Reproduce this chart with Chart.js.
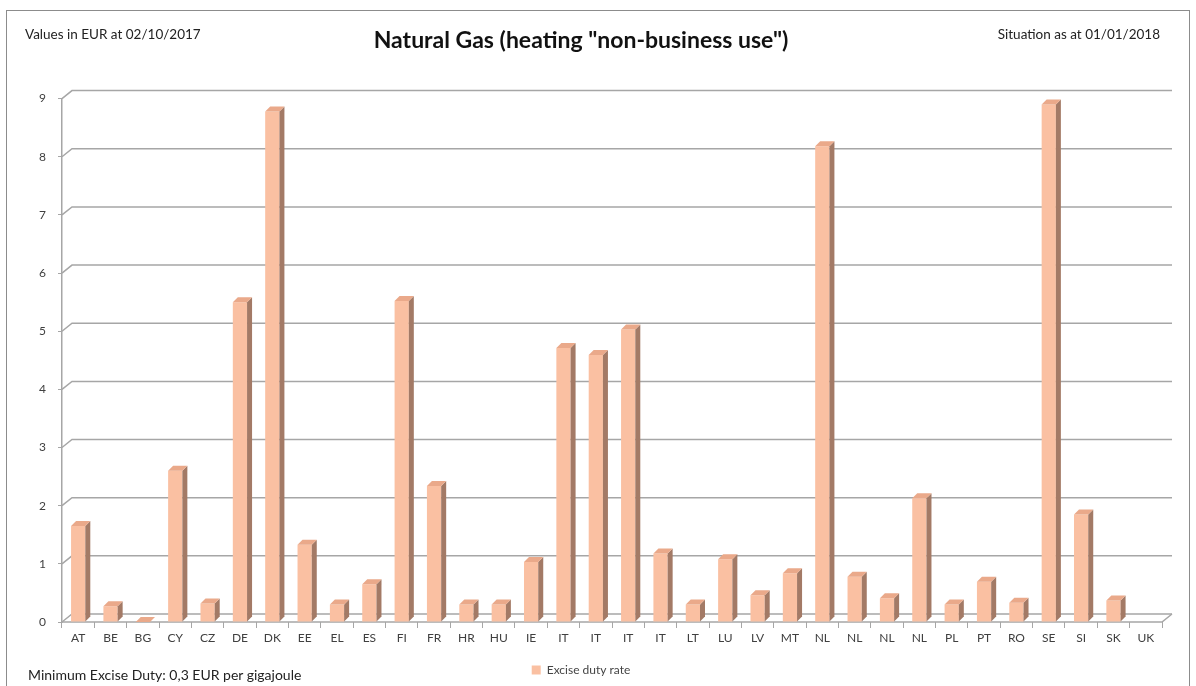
<!DOCTYPE html>
<html>
<head>
<meta charset="utf-8">
<script src="https://cdn.jsdelivr.net/npm/chart.js@4/dist/chart.umd.min.js"></script>
<style>
  html, body { margin: 0; padding: 0; background: #fff; }
  #wrap { position: relative; width: 1196px; height: 686px; overflow: hidden; font-family: Lato, "Open Sans", sans-serif; }
  #frame { position: absolute; left: 6px; top: 10px; width: 1184px; height: 690px; border: 1.5px solid #8c8c8c; box-sizing: border-box; }
  canvas { position: absolute; left: 0; top: 0; }
  .note { position: absolute; font-size: 13.5px; color: #222; white-space: nowrap; }
</style>
</head>
<body>
<div id="wrap">
  <div id="frame"></div>
  <canvas id="c" width="1196" height="686"></canvas>
  <div class="note" style="left:25px; top:26px;">Values in EUR at 02/10/2017</div>
  <div class="note" style="right:36px; top:26px;">Situation as at 01/01/2018</div>
  <div class="note" style="left:28px; top:666px; font-size:14px;">Minimum Excise Duty: 0,3 EUR per gigajoule</div>
</div>
<script>
const categories = ["AT","BE","BG","CY","CZ","DE","DK","EE","EL","ES","FI","FR","HR","HU","IE","IT","IT","IT","IT","LT","LU","LV","MT","NL","NL","NL","NL","PL","PT","RO","SE","SI","SK","UK"];
const exciseRates = [1.65,0.27,0,2.6,0.32,5.5,8.78,1.33,0.3,0.65,5.52,2.34,0.3,0.3,1.03,4.71,4.59,5.03,1.18,0.3,1.08,0.46,0.84,8.18,0.78,0.41,2.13,0.3,0.69,0.33,8.9,1.85,0.37,null];
const yTicks = [0,1,2,3,4,5,6,7,8,9];
const seriesLabel = "Excise duty rate";
const titleText = 'Natural Gas (heating "non-business use")';

const DEPTH = 5;
const WALL_DX = 10, WALL_DY = 8;

const backWall = {
  id: 'backWall',
  beforeDatasetsDraw(chart) {
    const ctx = chart.ctx, y = chart.scales.y, a = chart.chartArea;
    ctx.save();
    ctx.strokeStyle = '#a6a6a6';
    ctx.lineWidth = 1.5;
    yTicks.forEach(v => {
      const py = y.getPixelForValue(v);
      ctx.beginPath();
      ctx.moveTo(a.left, py);
      ctx.lineTo(a.left + WALL_DX, py - WALL_DY);
      ctx.lineTo(a.right + WALL_DX, py - WALL_DY);
      ctx.stroke();
    });
    const p0 = y.getPixelForValue(0);
    ctx.beginPath();
    ctx.moveTo(a.left, p0);
    ctx.lineTo(a.right, p0);
    ctx.lineTo(a.right + WALL_DX, p0 - WALL_DY);
    ctx.stroke();
    ctx.restore();
  }
};

const bar3d = {
  id: 'bar3d',
  afterDatasetsDraw(chart) {
    const ctx = chart.ctx;
    const meta = chart.getDatasetMeta(0);
    ctx.save();
    meta.data.forEach((el, i) => {
      if (exciseRates[i] === null) return;
      const p = el.getProps(['x','y','base','width'], true);
      const l = p.x - p.width / 2, r = p.x + p.width / 2;
      const top = Math.min(p.y, p.base), bot = Math.max(p.y, p.base);
      ctx.fillStyle = '#a37a66';
      ctx.beginPath();
      ctx.moveTo(r, top);
      ctx.lineTo(r + DEPTH, top - DEPTH);
      ctx.lineTo(r + DEPTH, bot - DEPTH);
      ctx.lineTo(r, bot);
      ctx.closePath();
      ctx.fill();
      ctx.fillStyle = '#eaa98a';
      ctx.beginPath();
      ctx.moveTo(l, top);
      ctx.lineTo(l + DEPTH, top - DEPTH);
      ctx.lineTo(r + DEPTH, top - DEPTH);
      ctx.lineTo(r, top);
      ctx.closePath();
      ctx.fill();
    });
    ctx.restore();
  }
};

new Chart(document.getElementById('c'), {
  type: 'bar',
  data: {
    labels: categories,
    datasets: [{
      label: seriesLabel,
      data: exciseRates,
      backgroundColor: '#fac0a2',
      borderWidth: 0,
      barPercentage: 0.44,
      categoryPercentage: 1.0
    }]
  },
  options: {
    responsive: false,
    animation: false,
    devicePixelRatio: 1,
    layout: { padding: { left: 0, right: 34, top: 0, bottom: 0 } },
    plugins: {
      title: {
        display: true,
        text: titleText,
        color: '#111',
        font: { family: 'Lato', size: 23, weight: 'bold' },
        padding: { top: 27, bottom: 44 }
      },
      legend: {
        display: true,
        position: 'bottom',
        labels: {
          boxWidth: 9, boxHeight: 9, color: '#444',
          font: { family: 'Lato', size: 12 },
          padding: 10
        }
      },
      tooltip: { enabled: false }
    },
    scales: {
      x: {
        grid: { display: true, drawOnChartArea: false, color: '#a6a6a6', tickLength: 6, offset: true },
        border: { display: false },
        ticks: { color: '#404040', font: { family: 'Lato', size: 12 }, padding: 3, maxRotation: 0, autoSkip: false },
        afterFit(s) { s.height = 32; }
      },
      y: {
        min: 0, max: 9,
        afterBuildTicks(s) { s.ticks = yTicks.map(v => ({ value: v })); },
        grid: { display: true, drawOnChartArea: false, color: '#a6a6a6', tickLength: 4 },
        border: { display: true, color: '#a6a6a6', width: 1.5 },
        ticks: { color: '#404040', font: { family: 'Lato', size: 12 }, padding: 12 },
        afterFit(s) { s.width = 62; }
      }
    }
  },
  plugins: [backWall, bar3d]
});
</script>
</body>
</html>
